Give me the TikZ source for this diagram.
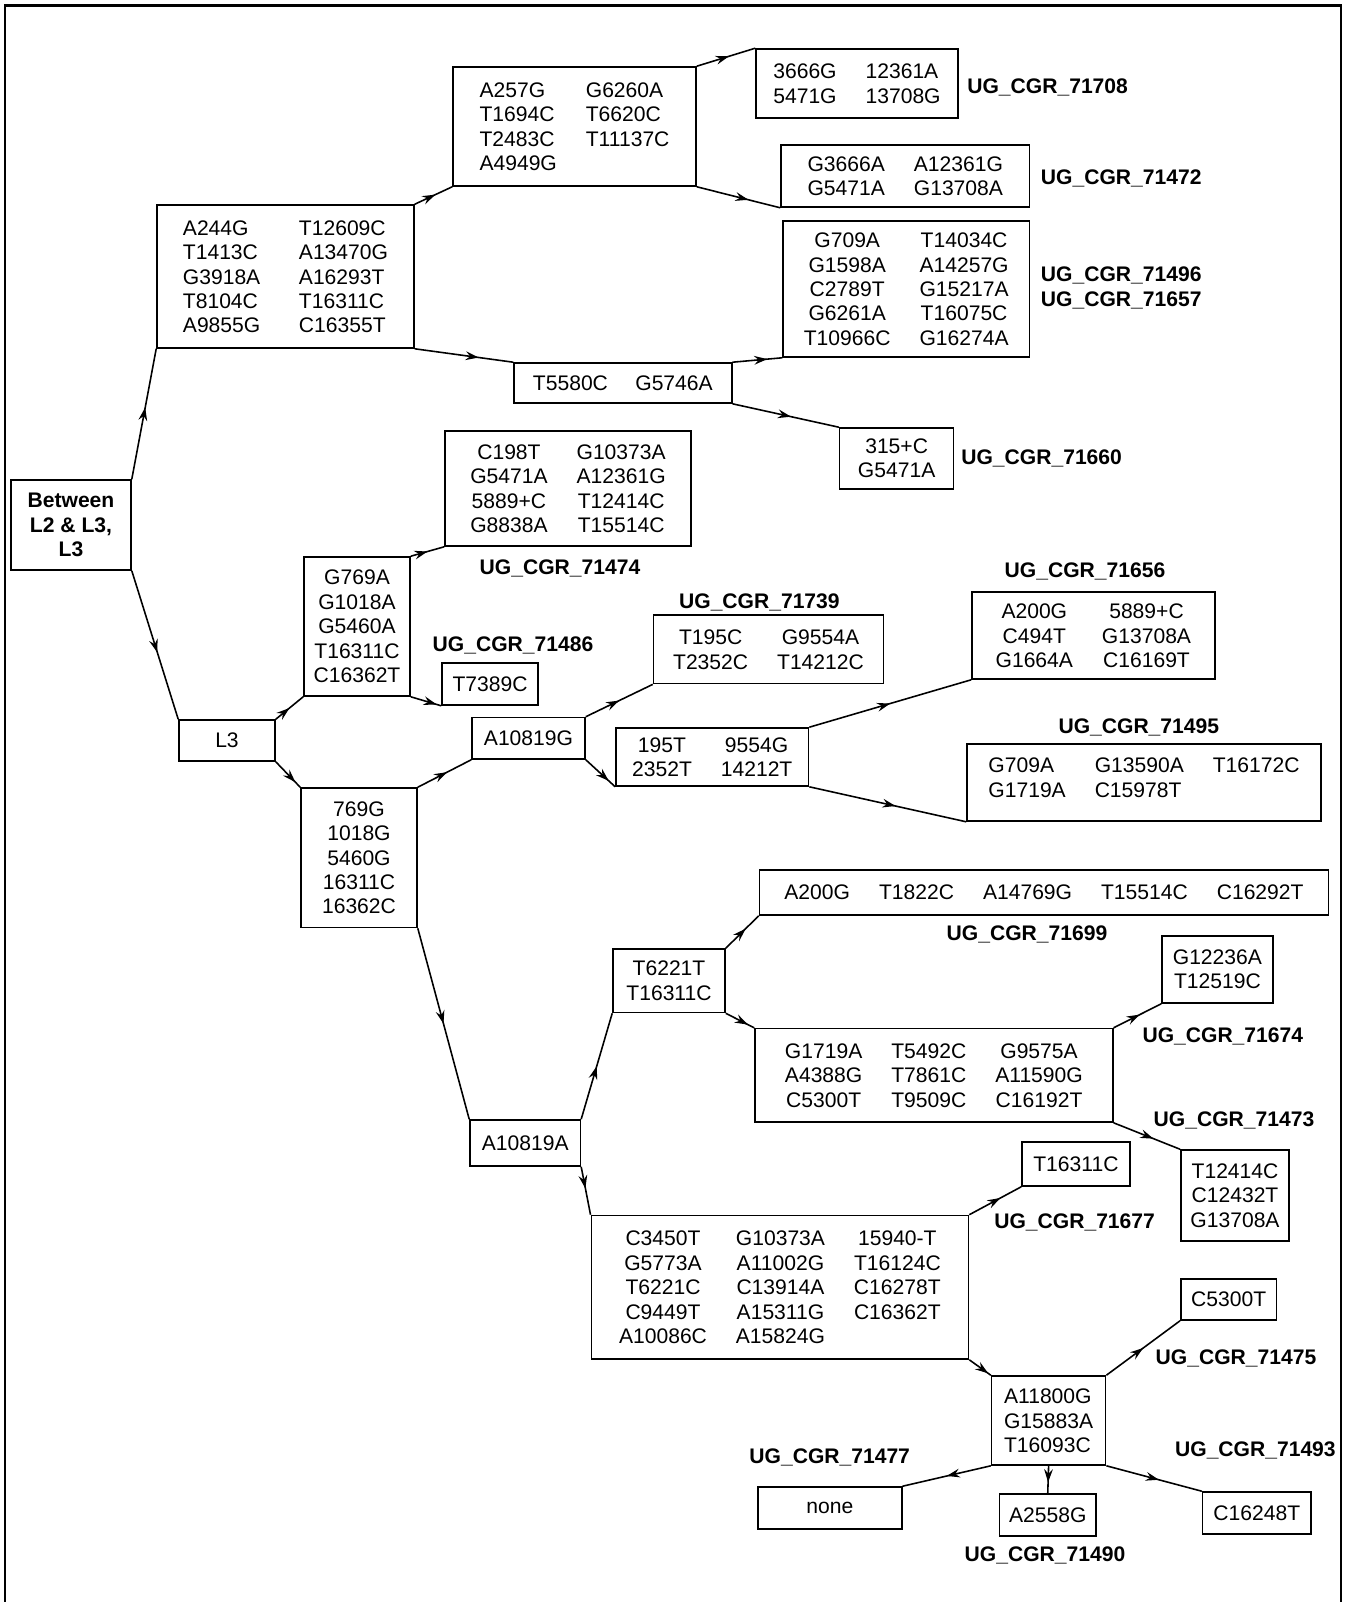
\documentclass[tikz,border=0pt]{standalone}
\usepackage{fontspec}
\setmainfont{Liberation Sans}
\usetikzlibrary{arrows.meta, decorations.markings}

\newcommand{\gp}{\hspace{16.5pt}}
\newcommand{\dn}{\noalign{\vskip 3pt}}

\begin{document}
\begin{tikzpicture}[
        x=0.02cm, y=-0.02cm,
        every node/.style={
            font=\fontsize{12}{13.9}\selectfont,
            inner sep=0pt,
            align=center
        },
        box/.style={
            rectangle,
            draw,
            line width=0.9pt
        },
        sz/.style 2 args={
            minimum width=#1*0.02cm,
            minimum height=#2*0.02cm
        },
        tag/.style={
            font=\fontsize{12}{13.9}\selectfont\bfseries,
            text height=8.6pt,
            text depth=0pt
        },
        flow/.style={
            line width=0.9pt,
            postaction={decorate},
            decoration={markings,
                mark=at position #1 with {\arrow{Stealth[length=7.5pt,width=5pt,inset=2.6pt]}}}
        },
        flow/.default=0.55
    ]
    \useasboundingbox (0,0) rectangle (1351,1602);

    % frame
    \draw[line width=1.6pt] (5,1602) -- (5,5.7) -- (1341,5.7) -- (1341,1602);

    % root and upper branch
    \node[box, sz={120}{90}, font=\fontsize{12}{13.9}\selectfont\bfseries] (between) at (71,525) {Between\\L2 \& L3,\\L3};
    \node[box, sz={257}{143}] (a244) at (285.5,276.5) {\begin{tabular}{@{}l@{\hspace{22pt}}l@{}}\dn
        A244G & T12609C\\ T1413C & A13470G\\ G3918A & A16293T\\ T8104C & T16311C\\ A9855G & C16355T
    \end{tabular}};
    \node[box, sz={243}{119}] (a257) at (574.5,126.5) {\begin{tabular}{@{}l@{\gp}l@{}}\dn
        A257G & G6260A\\ T1694C & T6620C\\ T2483C & T11137C\\ A4949G &
    \end{tabular}};
    \node[box, sz={202}{69}] (b3666) at (857,83.5) {\begin{tabular}{@{}l@{\gp}l@{}}\dn
        3666G & 12361A\\ 5471G & 13708G
    \end{tabular}};
    \node[box, sz={248.5}{62}] (g3666) at (905.25,176) {\begin{tabular}{@{}l@{\gp}l@{}}\dn
        G3666A & A12361G\\ G5471A & G13708A
    \end{tabular}};
    \node[box, sz={246.5}{136}] (g709) at (906.25,289) {\begin{tabular}{@{}c@{\gp}c@{}}\dn
        G709A & T14034C\\ G1598A & A14257G\\ C2789T & G15217A\\ G6261A & T16075C\\ T10966C & G16274A
    \end{tabular}};
    \node[box, sz={217.7}{40}] (t5580) at (622.85,383) {T5580C\hspace{15.6pt}G5746A};
    \node[box, sz={114}{61}] (b315) at (896.65,458.5) {315+C\\G5471A};

    % L3 branch
    \node[box, sz={96}{41}] (l3) at (227,740.5) {L3};
    \node[box, sz={106}{139}] (g769) at (357,626.5) {G769A\\G1018A\\G5460A\\T16311C\\C16362T};
    \node[box, sz={246}{115}] (c198) at (568,488.5) {\begin{tabular}{@{}c@{\gp}c@{}}\dn
        C198T & G10373A\\ G5471A & A12361G\\ 5889+C & T12414C\\ G8838A & T15514C
    \end{tabular}};
    \node[box, sz={96}{42}] (t7389) at (490,684) {T7389C};
    \node[box, sz={116}{139.5}] (b769) at (359,857.75) {769G\\1018G\\5460G\\16311C\\16362C};
    \node[box, sz={113}{41.5}] (a10819g) at (528.5,738.25) {A10819G};
    \node[box, sz={230}{68.6}] (t195) at (768.5,649.3) {\begin{tabular}{@{}c@{\gp}c@{}}\dn
        T195C & G9554A\\ T2352C & T14212C
    \end{tabular}};
    \node[box, sz={192.5}{58}] (b195) at (712.25,757) {\begin{tabular}{@{}c@{\gp}c@{}}\dn
        195T & 9554G\\ 2352T & 14212T
    \end{tabular}};
    \node[box, sz={242.7}{87}] (a200) at (1093.35,635.5) {\begin{tabular}{@{}c@{\gp}c@{}}\dn
        A200G & 5889+C\\ C494T & G13708A\\ G1664A & C16169T
    \end{tabular}};
    \node[box, sz={354}{77}] (g709b) at (1144,782.5) {\begin{tabular}{@{}l@{\gp}l@{\gp}l@{}}\dn
        G709A & G13590A & T16172C\\ G1719A & C15978T & \\[0.2cm]
    \end{tabular}};

    % A10819A branch
    \node[box, sz={110.4}{46}] (a10819a) at (525.2,1143) {A10819A};
    \node[box, sz={112}{63.5}] (t6221) at (669,980.75) {T6221T\\T16311C};
    \node[box, sz={569}{45}] (a200long) at (1044,892.5) {A200G\gp{}T1822C\gp{}A14769G\gp{}T15514C\gp{}C16292T};
    \node[box, sz={357.8}{93.4}] (g1719) at (933.9,1075.3) {\begin{tabular}{@{}c@{\gp}c@{\gp}c@{}}\dn
        G1719A & T5492C & G9575A\\ A4388G & T7861C & A11590G\\ C5300T & T9509C & C16192T
    \end{tabular}};
    \node[box, sz={110.8}{67}] (g12236) at (1217.4,969.5) {G12236A\\T12519C};
    \node[box, sz={108.5}{91}] (t12414) at (1235,1195.5) {T12414C\\C12432T\\G13708A};
    \node[box, sz={377.2}{143.5}] (c3450) at (779.9,1287.25) {\begin{tabular}{@{}c@{\gp}c@{\gp}c@{}}\dn
        C3450T & G10373A & 15940-T\\ G5773A & A11002G & T16124C\\ T6221C & C13914A & C16278T\\
        C9449T & A15311G & C16362T\\ A10086C & A15824G &
    \end{tabular}};
    \node[box, sz={107.8}{44}] (t16311) at (1075.9,1164) {T16311C};
    \node[box, sz={114}{89}] (a11800) at (1048.6,1420.5) {\begin{tabular}{@{}l@{}}\dn
        A11800G\\ G15883A\\ T16093C
    \end{tabular}};
    \node[box, sz={95.8}{41}] (c5300) at (1228.7,1299.5) {C5300T};
    \node[box, sz={143.8}{42}] (none) at (829.9,1508) {none};
    \node[box, sz={96.5}{42}] (a2558) at (1047.75,1515) {A2558G};
    \node[box, sz={108.4}{42}] (c16248) at (1256.8,1513) {C16248T};

    % sample names
    \node[tag, anchor=west] (n71708) at (967,86) {UG\_CGR\_71708};
    \node[tag, anchor=west] (n71472) at (1040.6,177) {UG\_CGR\_71472};
    \node[tag, anchor=west] (n71496) at (1040.6,274) {UG\_CGR\_71496};
    \node[tag, anchor=west] (n71657) at (1040.6,299) {UG\_CGR\_71657};
    \node[tag, anchor=west] (n71660) at (961,457) {UG\_CGR\_71660};
    \node[tag] (n71474) at (560,567) {UG\_CGR\_71474};
    \node[tag] (n71486) at (513,644) {UG\_CGR\_71486};
    \node[tag] (n71739) at (759.4,601) {UG\_CGR\_71739};
    \node[tag] (n71656) at (1085,570) {UG\_CGR\_71656};
    \node[tag] (n71495) at (1138.8,726) {UG\_CGR\_71495};
    \node[tag] (n71699) at (1027,933) {UG\_CGR\_71699};
    \node[tag] (n71674) at (1222.8,1035) {UG\_CGR\_71674};
    \node[tag] (n71473) at (1234,1119) {UG\_CGR\_71473};
    \node[tag] (n71677) at (1074.6,1221) {UG\_CGR\_71677};
    \node[tag] (n71475) at (1236,1357) {UG\_CGR\_71475};
    \node[tag] (n71477) at (829.7,1456) {UG\_CGR\_71477};
    \node[tag] (n71490) at (1045,1554) {UG\_CGR\_71490};
    \node[tag] (n71493) at (1255.4,1449) {UG\_CGR\_71493};

    % branches
    \draw[flow] (between.north east) -- (a244.south west);
    \draw[flow] (between.south east) -- (l3.north west);
    \draw[flow] (a244.north east) -- (a257.south west);
    \draw[flow=0.65] (a244.south east) -- (t5580.north west);
    \draw[flow] (a257.north east) -- (b3666.north west);
    \draw[flow=0.62] (a257.south east) -- (g3666.south west);
    \draw[flow=0.7] (t5580.north east) -- (g709.south west);
    \draw[flow] (t5580.south east) -- (b315.north west);
    \draw[flow=0.5] (l3.north east) -- (g769.south west);
    \draw[flow=0.8] (l3.south east) -- (b769.north west);
    \draw[flow=0.5] (g769.north east) -- (c198.south west);
    \draw[flow=0.85] (g769.south east) -- (t7389.south west);
    \draw[flow] (b769.north east) -- (a10819g.south west);
    \draw[flow=0.5] (b769.south east) -- (a10819a.north west);
    \draw[flow=0.5] (a10819g.north east) -- (t195.south west);
    \draw[flow=0.78] (a10819g.south east) -- (b195.south west);
    \draw[flow=0.5] (b195.north east) -- (a200.south west);
    \draw[flow] (b195.south east) -- (g709b.south west);
    \draw[flow=0.5] (a10819a.north east) -- (t6221.south west);
    \draw[flow=0.45] (a10819a.south east) -- (c3450.north west);
    \draw[flow=0.6] (t6221.north east) -- (a200long.south west);
    \draw[flow=0.78] (t6221.south east) -- (g1719.north west);
    \draw[flow] (g1719.north east) -- (g12236.south west);
    \draw[flow=0.6] (g1719.south east) -- (t12414.north west);
    \draw[flow=0.6] (c3450.north east) -- (t16311.south west);
    \draw[flow=0.88] (c3450.south east) -- (a11800.north west);
    \draw[flow=0.5] (a11800.north east) -- (c5300.south west);
    \draw[flow=0.5] (a11800.south west) -- (none.north east);
    \draw[flow=0.6] (a11800.south) -- (a2558.north);
    \draw[flow] (a11800.south east) -- (c16248.north west);

\end{tikzpicture}
\end{document}
